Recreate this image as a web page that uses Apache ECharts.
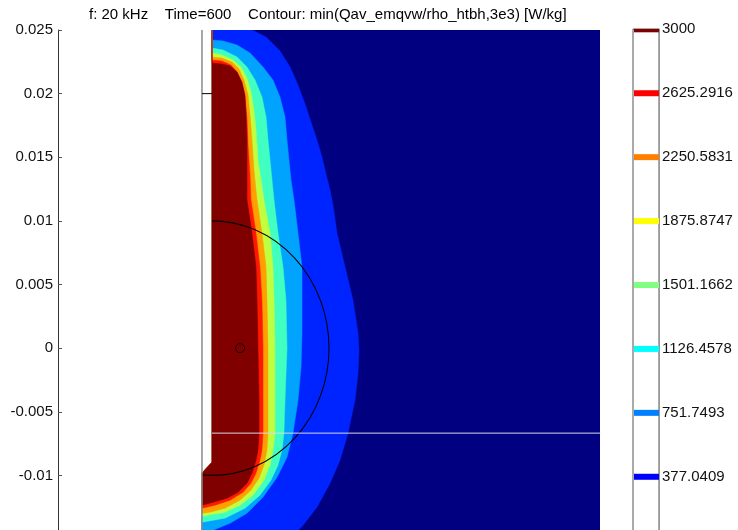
<!DOCTYPE html>
<html>
<head>
<meta charset="utf-8">
<script src="https://cdn.jsdelivr.net/npm/echarts@6.0.0/dist/echarts.min.js"></script>
<style>
  html, body { margin: 0; padding: 0; background: #fff; }
  #main { width: 738px; height: 530px; }
</style>
</head>
<body>
<div id="main"></div>
<script>
// colour bar levels (W/kg)
const levels = [377.0409, 751.7493, 1126.4578, 1501.1662, 1875.8747, 2250.5831, 2625.2916, 3000]
const levelLabels = ['377.0409', '751.7493', '1126.4578', '1501.1662', '1875.8747', '2250.5831', '2625.2916', '3000']
const levelColors = ['#0000ff', '#0080ff', '#00ffff', '#80ff80', '#ffff00', '#ff8000', '#ff0000', '#800000']

// y ticks (m)
const yTicks = [-0.015, -0.01, -0.005, 0, 0.005, 0.01, 0.015, 0.02, 0.025]

// filled contour: navy background + one colour per iso line, outside -> inside
const bandColors = ['#000080', '#0024ff', '#00a4ff', '#40ffc0', '#c0ff40', '#ffa000', '#ff1800', '#800000']

// iso lines [r, z] in m
const iso377 = [[0.00342, 0.025], [0.00462, 0.02445], [0.00581, 0.02335], [0.00667, 0.02209], [0.00735, 0.02068],
  [0.00795, 0.01918], [0.00846, 0.01777], [0.00897, 0.01635], [0.0094, 0.01502], [0.00974, 0.01368],
  [0.01009, 0.01242], [0.01034, 0.01124], [0.01068, 0.00904], [0.01137, 0.00637], [0.01205, 0.00377],
  [0.01248, 0.00118], [0.01256, -0.00016], [0.01248, -0.00197], [0.01222, -0.00409], [0.01162, -0.00668],
  [0.01094, -0.00881], [0.01009, -0.01061], [0.00897, -0.0125], [0.00778, -0.01392], [0.00667, -0.015]]
const iso751 = [[0, 0.02421], [0.00094, 0.02414], [0.00214, 0.02382], [0.00325, 0.02319], [0.00436, 0.02209],
  [0.00521, 0.02107], [0.00581, 0.01973], [0.00624, 0.01816], [0.00641, 0.01635], [0.00658, 0.01478],
  [0.00675, 0.01321], [0.00701, 0.01164], [0.00735, 0.00904], [0.00769, 0.00637], [0.00769, 0.00377],
  [0.00769, 0.00118], [0.00761, -0.00149], [0.00735, -0.00409], [0.00692, -0.00668], [0.00641, -0.00857],
  [0.00556, -0.01014], [0.00436, -0.01171], [0.00299, -0.01297], [0.00154, -0.01376], [0.00009, -0.01431],
  [-0.000855, -0.0147]]
const iso1126 = [[0, 0.02358], [0.00094, 0.02343], [0.00214, 0.02288], [0.00299, 0.02209], [0.00368, 0.02107],
  [0.00427, 0.01973], [0.00462, 0.01816], [0.00479, 0.01635], [0.00496, 0.01478], [0.00513, 0.01321],
  [0.0053, 0.01164], [0.00564, 0.00904], [0.00607, 0.00637], [0.00632, 0.00377], [0.00641, 0],
  [0.00624, -0.00409], [0.00615, -0.00668], [0.00598, -0.00802], [0.00564, -0.0092], [0.00504, -0.01038],
  [0.0041, -0.01156], [0.00282, -0.01258], [0.00111, -0.01336], [-0.000855, -0.01368]]
const iso1501 = [[0, 0.02319], [0.00085, 0.02303], [0.00179, 0.02264], [0.00248, 0.02209], [0.00299, 0.02123],
  [0.00333, 0.02013], [0.00359, 0.01871], [0.00376, 0.01714], [0.00393, 0.01478], [0.00419, 0.01321],
  [0.00444, 0.01164], [0.00496, 0.00904], [0.00521, 0.00637], [0.0053, 0.00377], [0.00538, 0],
  [0.00538, -0.00409], [0.00538, -0.00668], [0.00521, -0.00802], [0.00496, -0.0092], [0.00444, -0.01038],
  [0.0035, -0.01156], [0.00239, -0.01234], [0.00111, -0.01289], [-0.000855, -0.01321]]
const iso1875 = [[0, 0.02288], [0.00085, 0.0228], [0.00171, 0.02248], [0.00231, 0.02193], [0.00274, 0.02107],
  [0.00308, 0.01989], [0.00325, 0.01832], [0.00342, 0.01635], [0.00359, 0.01399], [0.00376, 0.01242],
  [0.00385, 0.01164], [0.00427, 0.00904], [0.00462, 0.00637], [0.0047, 0.00377], [0.00479, 0],
  [0.00479, -0.00409], [0.00479, -0.00668], [0.0047, -0.00802], [0.00444, -0.0092], [0.00402, -0.01022],
  [0.00333, -0.01116], [0.00239, -0.01195], [0.00111, -0.01258], [-0.00017, -0.01289], [-0.000855, -0.01297]]
const iso2250 = [[0, 0.02264], [0.00085, 0.02256], [0.00162, 0.02225], [0.00214, 0.0217], [0.00256, 0.02083],
  [0.00282, 0.01965], [0.00299, 0.01808], [0.00308, 0.01596], [0.00325, 0.0136], [0.00333, 0.01164],
  [0.00376, 0.00904], [0.0041, 0.00637], [0.00427, 0.00377], [0.00436, 0], [0.00436, -0.00409],
  [0.00436, -0.00668], [0.00427, -0.00802], [0.0041, -0.00881], [0.00376, -0.00983], [0.00333, -0.01061],
  [0.00265, -0.01132], [0.00154, -0.01195], [0.00026, -0.01234], [-0.000855, -0.01258]]
const iso2625 = [[0, 0.02241], [0.00085, 0.02233], [0.00154, 0.02217], [0.00214, 0.0217], [0.00256, 0.02091],
  [0.00282, 0.01989], [0.00291, 0.01832], [0.00299, 0.01635], [0.00299, 0.01399], [0.00299, 0.01164],
  [0.00342, 0.00904], [0.00376, 0.00637], [0.00385, 0.00377], [0.00393, 0], [0.00402, -0.00409],
  [0.00402, -0.00668], [0.00393, -0.00802], [0.00376, -0.00881], [0.00342, -0.00983], [0.00299, -0.01061],
  [0.00222, -0.01132], [0.00128, -0.01179], [0.00009, -0.01211], [-0.000855, -0.01234]]

// geometry
const domain = [[0, 0.025], [0.0332, 0.025], [0.0332, -0.015], [-0.000855, -0.015], [-0.000855, -0.00983], [0, -0.00896]]
const leftEdge = [[-0.000855, -0.015], [-0.000855, -0.00983], [0, -0.00896], [0, 0.025]]
const symLine = [[-0.000855, 0.025], [-0.000855, -0.015]]
const markTick = [[-0.000855, 0.02], [0, 0.02]]
const interfaceLine = [[0, -0.00668], [0.0332, -0.00668]]
const circleR = 0.01
const arcEnd = [-0.000855, -0.00996]
const probePoint = [[0.0024, 0]]

const isoLines = [iso377, iso751, iso1126, iso1501, iso1875, iso2250, iso2625]

function closeRegion (line) {
  const end = line[line.length - 1]
  return line.concat(leftEdge.filter(p => p[1] >= end[1]))
}
const layers = [domain].concat(isoLines.map(closeRegion))

const font = 'Liberation Sans, Arial, sans-serif'
const chart = echarts.init(document.getElementById('main'))

chart.setOption({
  animation: false,
  title: {
    text: 'f: 20 kHz    Time=600    Contour: min(Qav_emqvw/rho_htbh,3e3) [W/kg]',
    left: 84,
    top: 2,
    textStyle: { fontFamily: font, fontSize: 15, fontWeight: 'normal', color: '#000' }
  },
  grid: [
    { left: 58, width: 542, top: 30, height: 509, show: false, containLabel: false, outerBoundsMode: 'none' },
    { left: 633, width: 26, top: 29, height: 505, show: true, borderColor: '#555', borderWidth: 1, backgroundColor: '#fff', containLabel: false, outerBoundsMode: 'none' }
  ],
  xAxis: [
    { type: 'value', gridIndex: 0, min: -0.01316, max: 0.03316, show: false },
    { type: 'value', gridIndex: 1, min: 0, max: 1, show: false }
  ],
  yAxis: [
    {
      type: 'value',
      gridIndex: 0,
      min: yTicks[0],
      max: yTicks[yTicks.length - 1],
      interval: yTicks[1] - yTicks[0],
      axisLine: { show: true, onZero: false, lineStyle: { color: '#333' } },
      axisTick: { inside: true, length: 4, lineStyle: { color: '#555' } },
      splitLine: { show: false },
      axisLabel: {
        fontFamily: font,
        fontSize: 15,
        color: '#111',
        margin: 5,
        formatter: v => String(parseFloat(v.toFixed(6)))
      }
    },
    {
      type: 'value',
      gridIndex: 1,
      position: 'right',
      min: 41.6,
      max: 3001.8,
      axisLine: { show: true, onZero: false, lineStyle: { color: '#999' } },
      axisTick: { show: false },
      splitLine: { show: false },
      axisLabel: {
        fontFamily: font,
        fontSize: 15,
        color: '#111',
        margin: 3,
        customValues: levels,
        formatter: v => {
          const i = levels.indexOf(v)
          return i >= 0 ? levelLabels[i] : ''
        }
      }
    }
  ],
  series: [
    {
      type: 'custom',
      xAxisIndex: 0,
      yAxisIndex: 0,
      clip: true,
      silent: true,
      data: layers.map(() => [0, 0]),
      renderItem: (params, api) => {
        const pts = layers[params.dataIndex].map(p => api.coord(p))
        const c = bandColors[params.dataIndex]
        return { type: 'polygon', shape: { points: pts }, style: { fill: c, stroke: c, lineWidth: 0.5 } }
      }
    },
    {
      type: 'line', xAxisIndex: 0, yAxisIndex: 0, data: symLine, symbol: 'none', silent: true,
      lineStyle: { color: '#8a8a8a', width: 1.5 }
    },
    {
      type: 'line', xAxisIndex: 0, yAxisIndex: 0, data: markTick, symbol: 'none', silent: true,
      lineStyle: { color: '#000', width: 1 }
    },
    {
      type: 'line', xAxisIndex: 0, yAxisIndex: 0, data: interfaceLine, symbol: 'none', silent: true,
      lineStyle: { color: '#d8d8e8', width: 1 }
    },
    {
      type: 'custom',
      xAxisIndex: 0,
      yAxisIndex: 0,
      silent: true,
      data: [[0, 0]],
      renderItem: (params, api) => {
        const c = api.coord([0, 0])
        const s = api.size([circleR, circleR])
        const endAngle = Math.atan2(-arcEnd[1] / circleR, arcEnd[0] / circleR)
        return {
          type: 'arc',
          x: c[0],
          y: c[1],
          scaleY: s[1] / s[0],
          shape: { cx: 0, cy: 0, r: s[0], startAngle: -Math.PI / 2, endAngle: endAngle, clockwise: true },
          style: { stroke: '#000', lineWidth: 1, fill: null }
        }
      }
    },
    {
      type: 'scatter', xAxisIndex: 0, yAxisIndex: 0, data: probePoint, symbol: 'circle', symbolSize: 9, silent: true,
      itemStyle: { color: 'rgba(0,0,0,0)', borderColor: '#000', borderWidth: 1 }
    },
    {
      type: 'custom',
      xAxisIndex: 1,
      yAxisIndex: 1,
      clip: true,
      silent: true,
      data: levels.map(v => [0, v]),
      renderItem: (params, api) => {
        const p = api.coord([0, api.value(1)])
        const w = api.size([1, 0])[0]
        return {
          type: 'rect',
          shape: { x: p[0] + 1, y: p[1] - 3, width: w - 1, height: 6 },
          style: { fill: levelColors[params.dataIndex] }
        }
      }
    }
  ]
})
</script>
</body>
</html>
